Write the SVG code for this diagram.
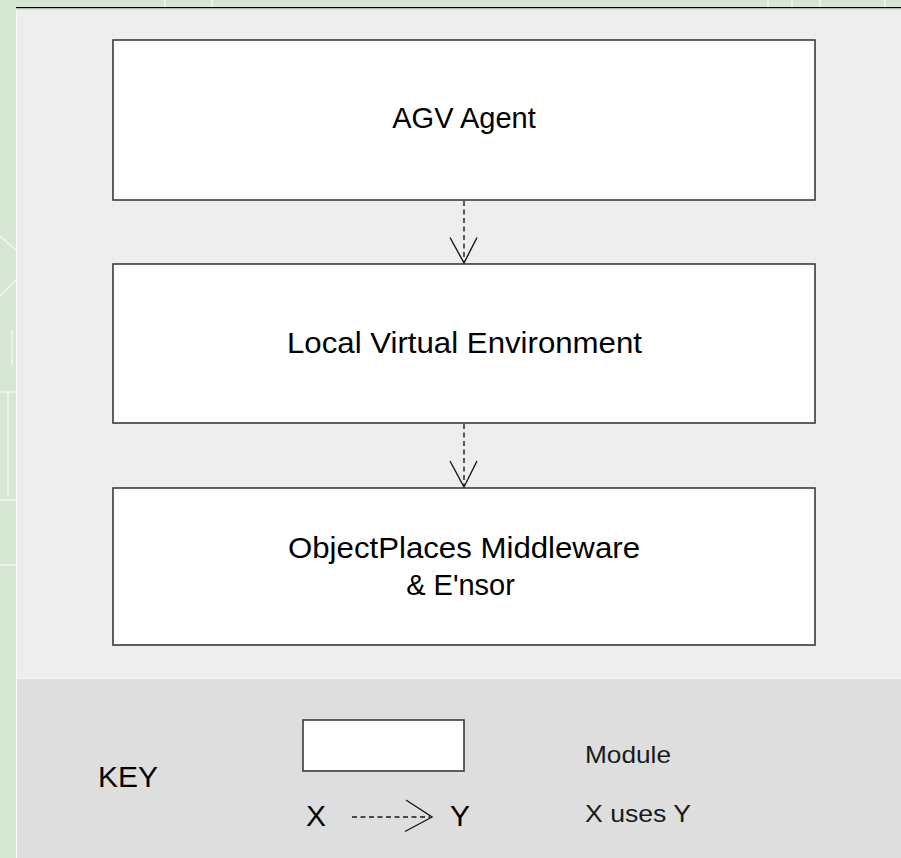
<svg xmlns="http://www.w3.org/2000/svg" width="901" height="858" viewBox="0 0 901 858">
  <defs>
    <style>
      .frame { fill: #d6e8d4; }
      .panel { fill: #eeeeee; }
      .keypanel { fill: #dedede; }
      .module { fill: #ffffff; stroke: #3a3a3a; stroke-width: 1.6; }
      .label { font-family: "Liberation Sans", Arial, sans-serif; font-size: 29px; fill: #000000; text-anchor: middle; }
      .keytext { font-family: "Liberation Sans", Arial, sans-serif; font-size: 30px; fill: #000000; }
      .legend { font-family: "Liberation Sans", Arial, sans-serif; font-size: 24px; fill: #1a1a1a; }
      .uses { fill: none; stroke: #1a1a1a; stroke-width: 1.4; stroke-dasharray: 5 3.5; }
      .head { fill: none; stroke: #1a1a1a; stroke-width: 1.4; }
      .faint { stroke: #f2f7f1; stroke-width: 1.5; fill: none; }
    </style>
  </defs>

  <!-- outer backdrop -->
  <rect class="frame" x="0" y="0" width="901" height="858"/>
  <g id="backdrop-lines">
    <path class="faint" d="M0 236 L16 250 M0 296 L16 280 M12 330 L12 365 M0 392 L16 392 M8 390 L8 495 M0 500 L16 500 M0 565 L16 565 M165 0 L165 7 M212 0 L212 7 M768 0 L768 7 M792 0 L792 7 M820 0 L820 7 M885 0 L885 7"/>
  </g>

  <!-- diagram panel -->
  <rect class="panel" x="16" y="7" width="885" height="672"/>
  <line x1="16.5" y1="8" x2="16.5" y2="858" stroke="#fafafa" stroke-width="1"/>
  <line x1="16" y1="7.5" x2="901" y2="7.5" stroke="#000000" stroke-width="1.2"/>
  <line x1="16" y1="8.7" x2="901" y2="8.7" stroke="#9a9a9a" stroke-width="0.8"/>

  <!-- key panel -->
  <rect class="keypanel" x="17" y="679" width="884" height="179"/>
  <line x1="17" y1="678.5" x2="901" y2="678.5" stroke="#f6f6f6" stroke-width="1"/>

  <!-- modules -->
  <g id="agv-agent">
    <rect class="module" x="113" y="40" width="702" height="160"/>
    <text class="label" x="464" y="128">AGV Agent</text>
  </g>
  <g id="local-virtual-environment">
    <rect class="module" x="113" y="264" width="702" height="159"/>
    <text class="label" x="464.5" y="353" textLength="355" lengthAdjust="spacingAndGlyphs">Local Virtual Environment</text>
  </g>
  <g id="objectplaces-middleware">
    <rect class="module" x="113" y="488" width="702" height="157"/>
    <text class="label" x="464" y="558" textLength="352" lengthAdjust="spacingAndGlyphs">ObjectPlaces Middleware</text>
    <text class="label" x="460.5" y="595">&amp; E'nsor</text>
  </g>

  <!-- uses relations -->
  <g id="connectors">
    <line class="uses" x1="464" y1="201" x2="464" y2="262"/>
    <polyline class="head" points="450,237.5 464,263 477,237.5"/>
    <line class="uses" x1="464" y1="424" x2="464" y2="486"/>
    <polyline class="head" points="450,461 464,487 477,461"/>
  </g>

  <!-- key -->
  <g id="key">
    <text class="keytext" x="98" y="787">KEY</text>
    <rect class="module" x="303" y="720" width="161" height="51" stroke-width="1.3"/>
    <text class="legend" x="585" y="763" textLength="86" lengthAdjust="spacingAndGlyphs">Module</text>
    <text class="keytext" x="306" y="826">X</text>
    <line class="uses" x1="352" y1="817" x2="430" y2="817" stroke-dasharray="8 4"/>
    <polyline class="head" points="406,800 432,817 405,831.5"/>
    <text class="keytext" x="450" y="826">Y</text>
    <text class="legend" x="585" y="822" textLength="106" lengthAdjust="spacingAndGlyphs">X uses Y</text>
  </g>
</svg>
